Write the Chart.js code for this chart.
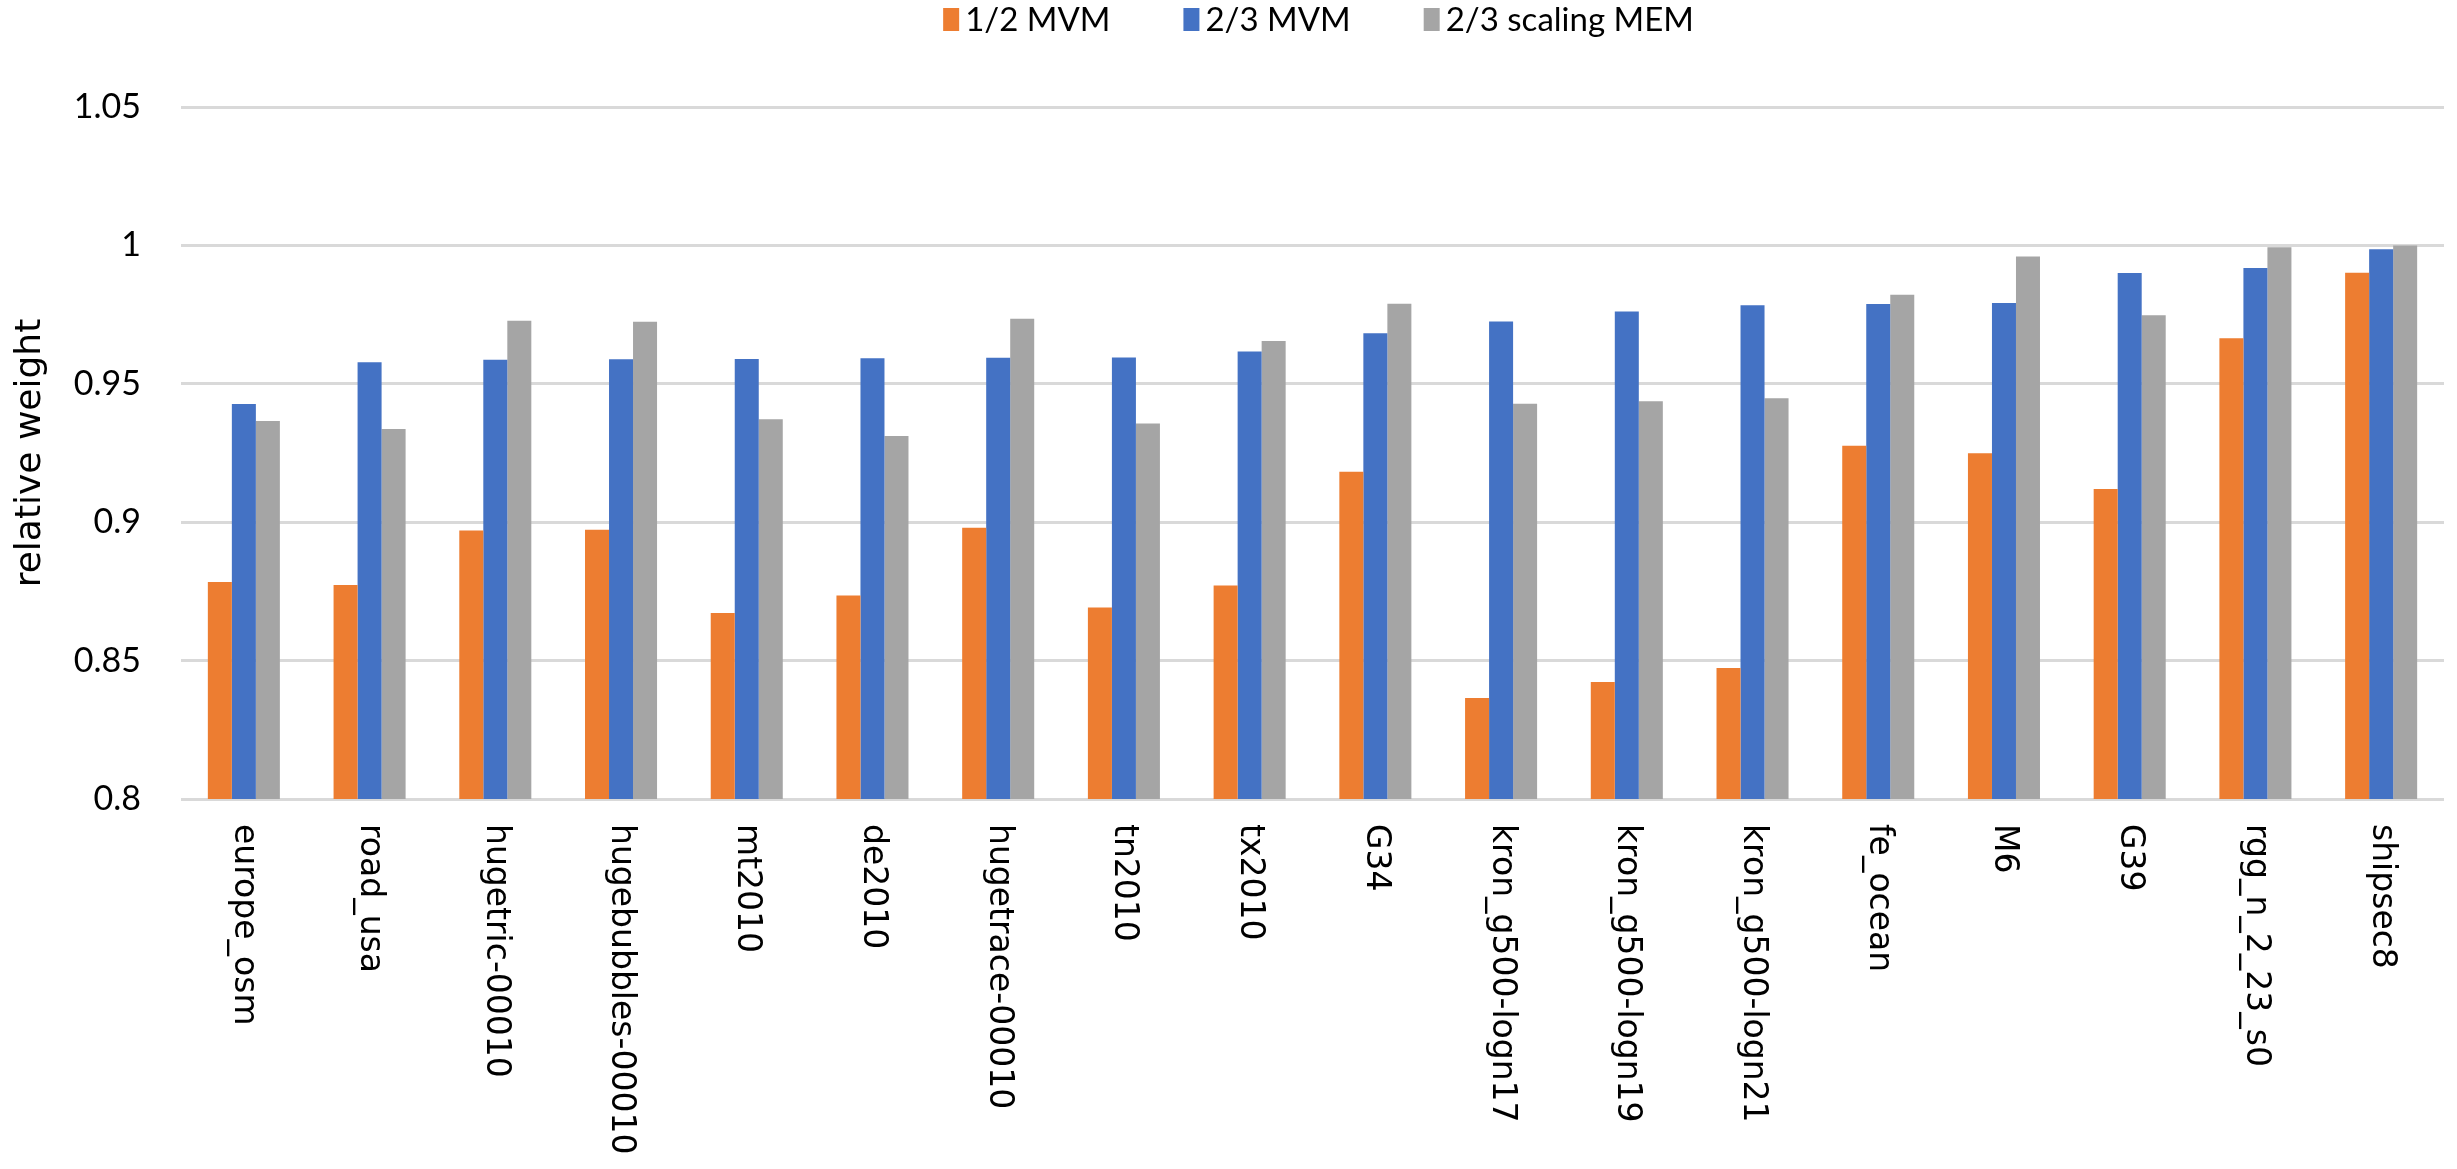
<!DOCTYPE html>
<html lang="en">
  <head>
    <meta charset="UTF-8" />
    <title>Relative weight per graph</title>
    <script src="https://cdn.jsdelivr.net/npm/chart.js"></script>
    <style>
      body { margin: 0; background: #fff; }
    </style>
  </head>
  <body>
    <canvas id="weightChart" width="2457" height="1169"></canvas>
    <script>
      const categories = [
        "europe_osm", "road_usa", "hugetric-00010", "hugebubbles-00010",
        "mt2010", "de2010", "hugetrace-00010", "tn2010", "tx2010", "G34",
        "kron_g500-logn17", "kron_g500-logn19", "kron_g500-logn21",
        "fe_ocean", "M6", "G39", "rgg_n_2_23_s0", "shipsec8",
      ];
      const seriesNames = ["1/2 MVM", "2/3 MVM", "2/3 scaling MEM"];
      const halfMvm = [
        0.8784, 0.8773, 0.897, 0.8973, 0.8672, 0.8735, 0.898, 0.8692, 0.8771,
        0.9182, 0.8365, 0.8423, 0.8473, 0.9276, 0.9249, 0.912, 0.9665, 0.9901,
      ];
      const twoThirdsMvm = [
        0.9427, 0.9578, 0.9587, 0.9589, 0.959, 0.9592, 0.9594, 0.9595, 0.9617,
        0.9683, 0.9725, 0.9761, 0.9784, 0.9788, 0.9792, 0.9900, 0.9918, 0.9986,
      ];
      const twoThirdsScalingMem = [
        0.9366, 0.9337, 0.9728, 0.9724, 0.9372, 0.9311, 0.9735, 0.9357, 0.9655,
        0.9789, 0.9428, 0.9437, 0.9448, 0.9822, 0.996, 0.9748, 0.9993, 1.0,
      ];
      const yTicks = [0.8, 0.85, 0.9, 0.95, 1, 1.05];
      const colors = ["#ED7D31", "#4472C4", "#A5A5A5"];

      // legend drawn by hand: Excel puts it tight at the top, far from the plot
      const topLegend = {
        id: "topLegend",
        afterDraw(chart) {
          const { ctx, chartArea } = chart;
          ctx.save();
          ctx.font = "33px Lato";
          ctx.textBaseline = "alphabetic";
          const boxW = 16, boxH = 23, gap = 6, spacing = 73;
          const widths = seriesNames.map((n) => boxW + gap + ctx.measureText(n).width);
          const total = widths.reduce((a, b) => a + b, 0) + spacing * (widths.length - 1);
          let x = (chartArea.left + chartArea.right) / 2 + 6 - total / 2;
          seriesNames.forEach((name, i) => {
            ctx.fillStyle = colors[i];
            ctx.fillRect(x, 8, boxW, boxH);
            ctx.fillStyle = "#000";
            ctx.fillText(name, x + boxW + gap, 31);
            x += widths[i] + spacing;
          });
          ctx.restore();
        },
      };

      // category labels rotated clockwise (read top to bottom)
      const xLabels = {
        id: "xLabels",
        afterDraw(chart) {
          const { ctx } = chart;
          const xScale = chart.scales.x;
          ctx.save();
          ctx.font = "33px 'DejaVu Sans'";
          ctx.fillStyle = "#000";
          ctx.textAlign = "left";
          ctx.textBaseline = "middle";
          categories.forEach((label, i) => {
            ctx.save();
            ctx.translate(xScale.getPixelForValue(i), chart.chartArea.bottom + 25);
            ctx.rotate(Math.PI / 2);
            ctx.fillText(label, 0, 0);
            ctx.restore();
          });
          ctx.restore();
        },
      };

      new Chart(document.getElementById("weightChart"), {
        type: "bar",
        data: {
          labels: categories,
          datasets: [halfMvm, twoThirdsMvm, twoThirdsScalingMem].map((d, i) => ({
            label: seriesNames[i],
            data: d,
            backgroundColor: colors[i],
            borderWidth: 0,
            categoryPercentage: 0.573,
            barPercentage: 1.0,
          })),
        },
        options: {
          responsive: false,
          animation: false,
          layout: { padding: { top: 107, right: 13, bottom: 0, left: 0 } },
          plugins: {
            legend: { display: false },
            tooltip: { enabled: false },
          },
          scales: {
            x: {
              grid: { display: false },
              border: { display: false },
              ticks: { display: false },
              afterFit: (s) => { s.height = 370; },
            },
            y: {
              min: 0.8,
              max: 1.05,
              afterBuildTicks: (s) => { s.ticks = yTicks.map((v) => ({ value: v })); },
              grid: { color: "#D9D9D9", lineWidth: 3, drawTicks: false },
              border: { display: false },
              ticks: {
                padding: 40,
                color: "#000",
                font: { family: "Lato", size: 34 },
                callback: (v) => String(v),
              },
              title: {
                display: true,
                text: "relative weight",
                color: "#000",
                font: { family: "DejaVu Sans", size: 36 },
                padding: { top: 9, bottom: 0 },
              },
              afterFit: (s) => { s.width = 181; },
            },
          },
        },
        plugins: [topLegend, xLabels],
      });
    </script>
  </body>
</html>
